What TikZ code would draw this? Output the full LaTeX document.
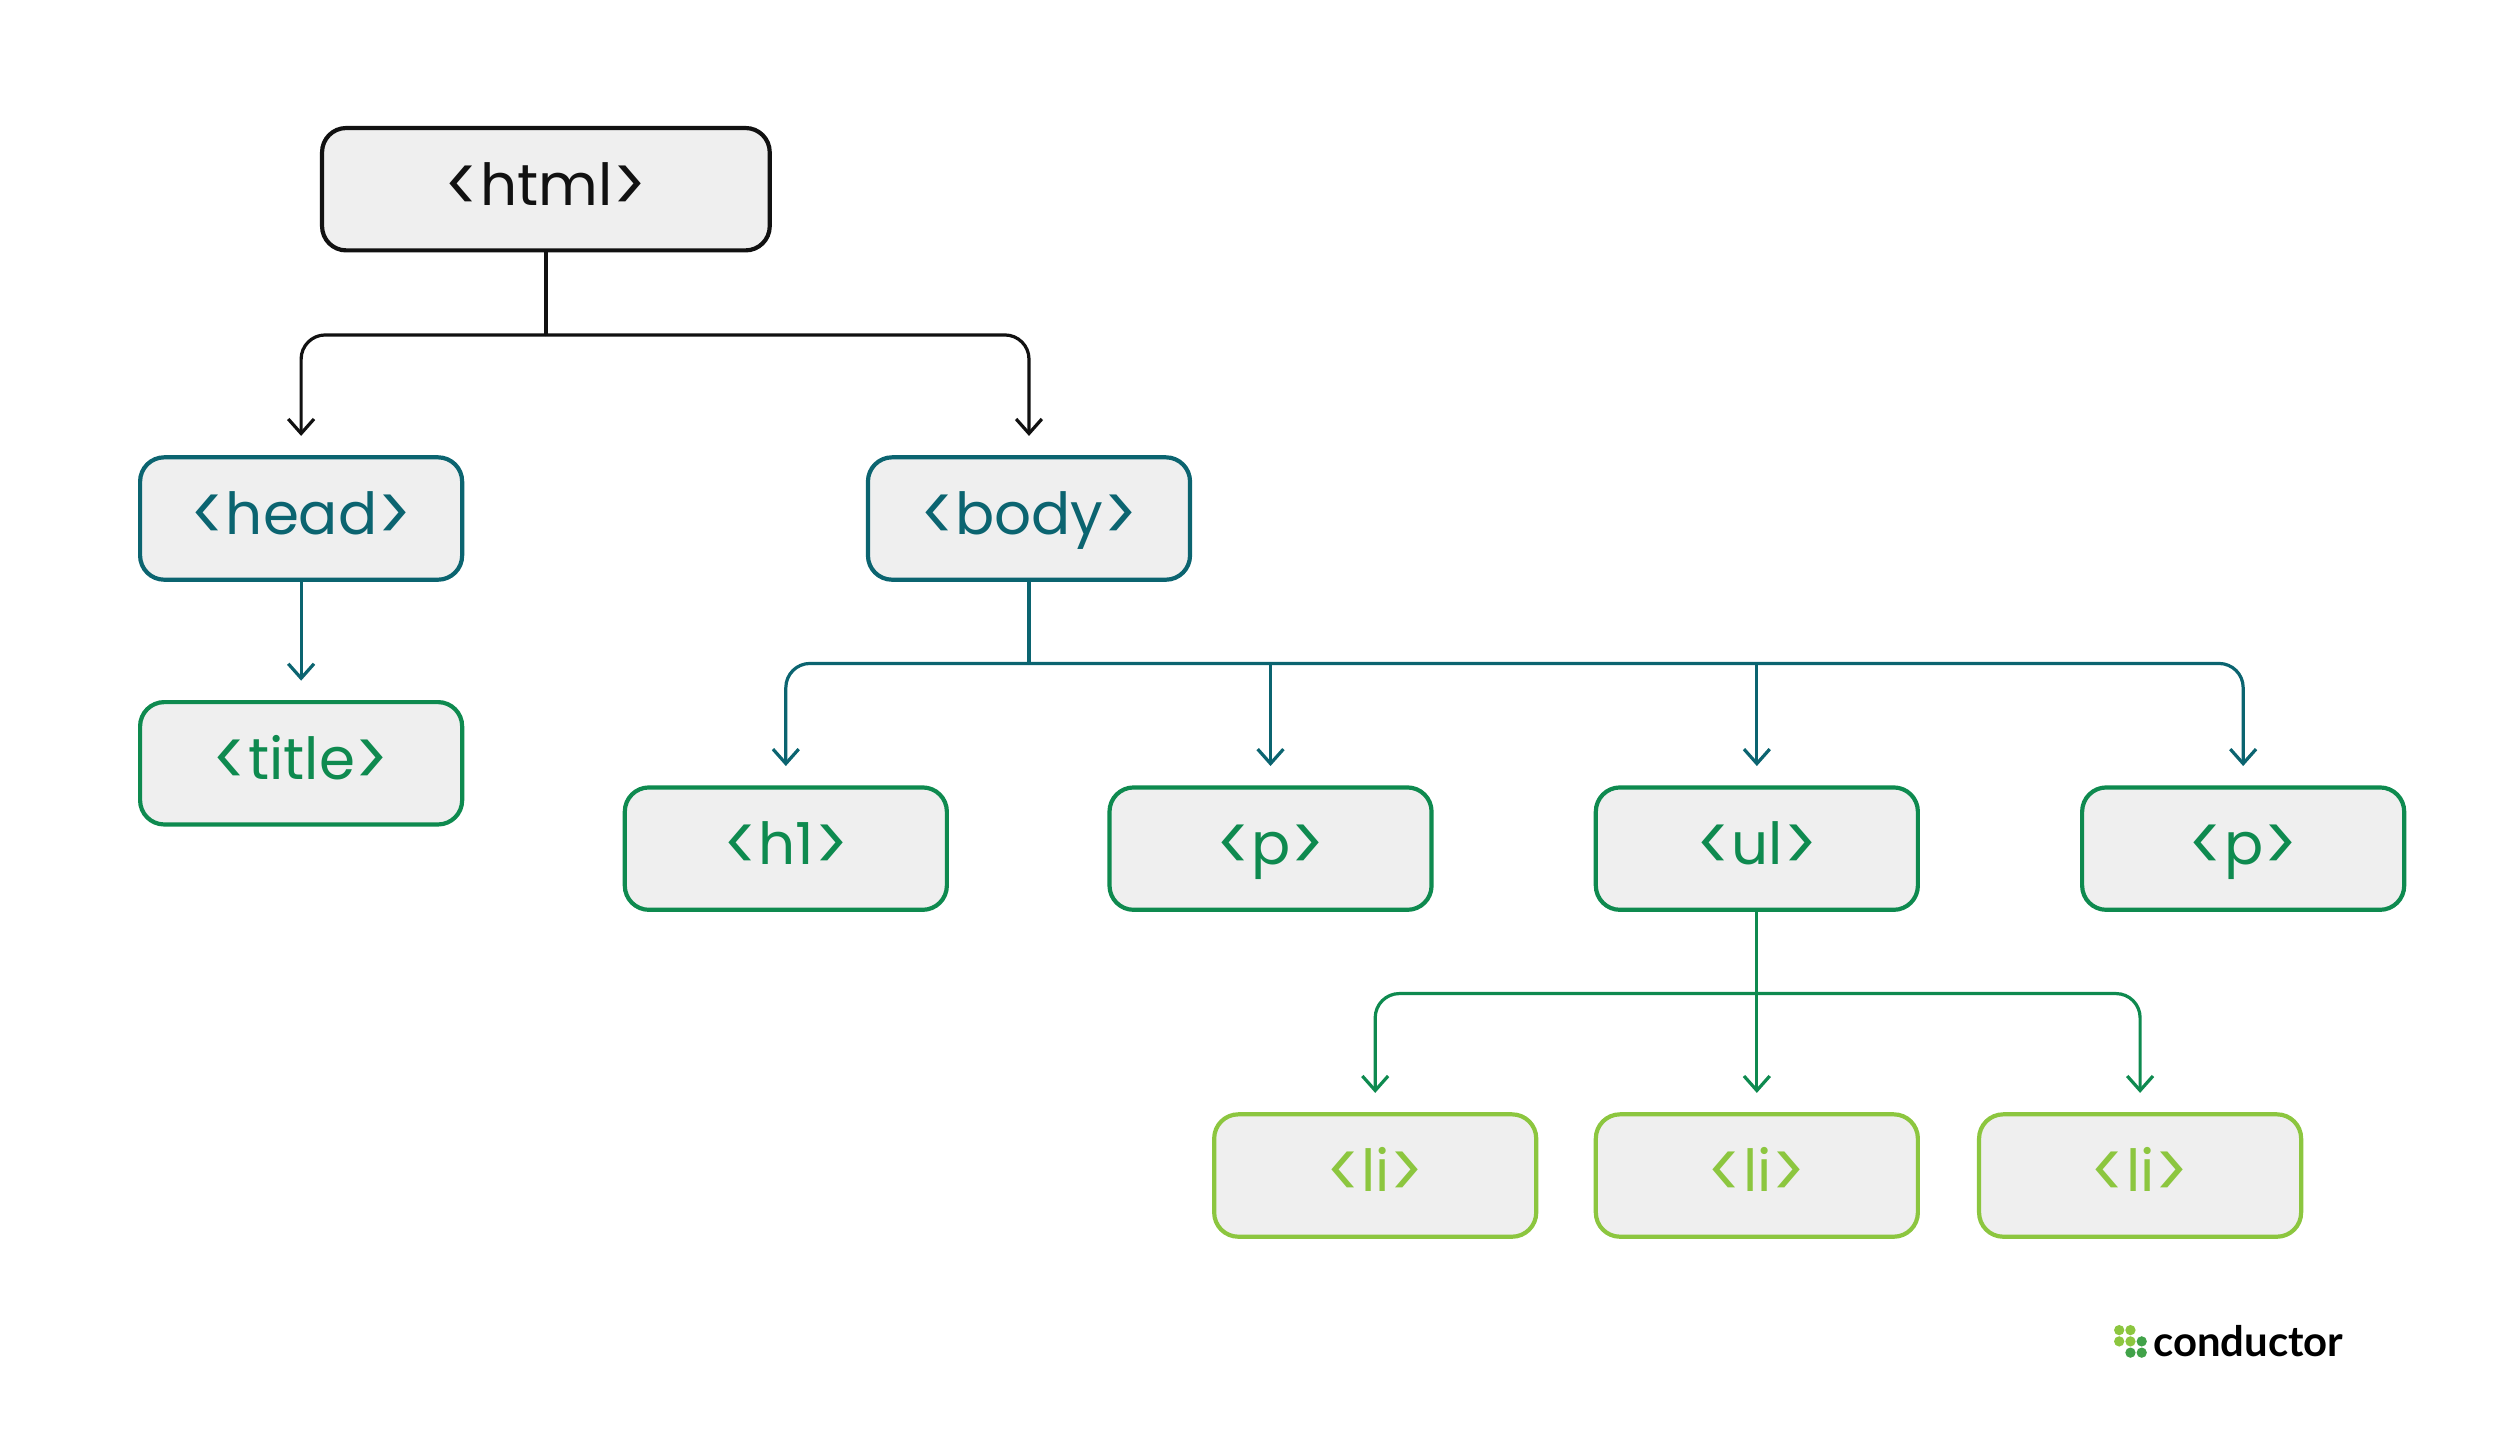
\documentclass[tikz,border=0pt]{standalone}
\usepackage{fontspec}
\setmainfont{Poppins}
\newfontfamily\logofont{Lato}
\usetikzlibrary{arrows.meta}
\definecolor{cblack}{HTML}{111111}
\definecolor{cteal}{HTML}{0B6470}
\definecolor{cgreen}{HTML}{0E8A4F}
\definecolor{clime}{HTML}{8CC63F}
\definecolor{cfill}{HTML}{EFEFEF}
\newcommand{\lt}{\raisebox{-0.12em}{\scalebox{1.1}[1.35]{<}}}
\newcommand{\gt}{\raisebox{-0.12em}{\scalebox{1.1}[1.35]{>}}}
\begin{document}
\begin{tikzpicture}[x=1pt,y=-1pt,
  box/.style={draw=#1,text=#1,line width=2.6pt,fill=cfill,rounded corners=15pt,minimum width=200pt,minimum height=76pt,inner sep=0pt,text height=22pt,text depth=2pt,font=\fontsize{36}{40}\selectfont},
  conn/.style={draw=#1,line width=2pt,rounded corners=15pt},
  arr/.style={conn=#1,-{Straight Barb[length=9pt,width=16pt,line width=2pt]},shorten >=12pt}]
\useasboundingbox (0,0) rectangle (1552.5,893);
\node[box=cblack,minimum width=278pt] (html) at (339,117.5) {\lt html\gt};
\node[box=cteal] (head) at (187,322) {\lt head\gt};
\node[box=cteal] (body) at (639,322) {\lt body\gt};
\node[box=cgreen] (title) at (187,474) {\lt title\gt};
\node[box=cgreen] (h1) at (488,527) {\lt h1\gt};
\node[box=cgreen] (p1) at (789,527) {\lt p\gt};
\node[box=cgreen] (ul) at (1091,527) {\lt ul\gt};
\node[box=cgreen] (p2) at (1393,527) {\lt p\gt};
\node[box=clime] (li1) at (854,730) {\lt li\gt};
\node[box=clime] (li2) at (1091,730) {\lt li\gt};
\node[box=clime] (li3) at (1329,730) {\lt li\gt};
\coordinate (j1) at (339,208);
\coordinate (j2) at (639,412);
\coordinate (j3) at (1091,617);
\draw[conn=cblack] (html.south) -- (j1);
\draw[arr=cblack] (j1) -| (head.north);
\draw[arr=cblack] (j1) -| (body.north);
\draw[arr=cteal] (head.south) -- (title.north);
\draw[conn=cteal] (body.south) -- (j2);
\draw[arr=cteal] (j2) -| (h1.north);
\draw[arr=cteal] (j2) -| (p2.north);
\draw[arr=cteal] (p1.north |- j2) -- (p1.north);
\draw[arr=cteal] (ul.north |- j2) -- (ul.north);
\draw[arr=cgreen] (ul.south) -- (li2.north);
\draw[arr=cgreen] (j3) -| (li1.north);
\draw[arr=cgreen] (j3) -| (li3.north);
% logo
\foreach \cx/\cy/\cc in {1316/826/clime,1323/826/clime,1316/833/clime,1323/833/clime,1330/833/cgreen!60!clime,1323/840/cgreen!60!clime,1330/840/cgreen!60!clime}
  \fill[\cc] (\cx,\cy) circle (3.2pt);
\node[anchor=west,inner sep=0pt,font=\logofont\bfseries\fontsize{26}{30}\selectfont] (logo) at (1337,833) {conductor};
\end{tikzpicture}
\end{document}
